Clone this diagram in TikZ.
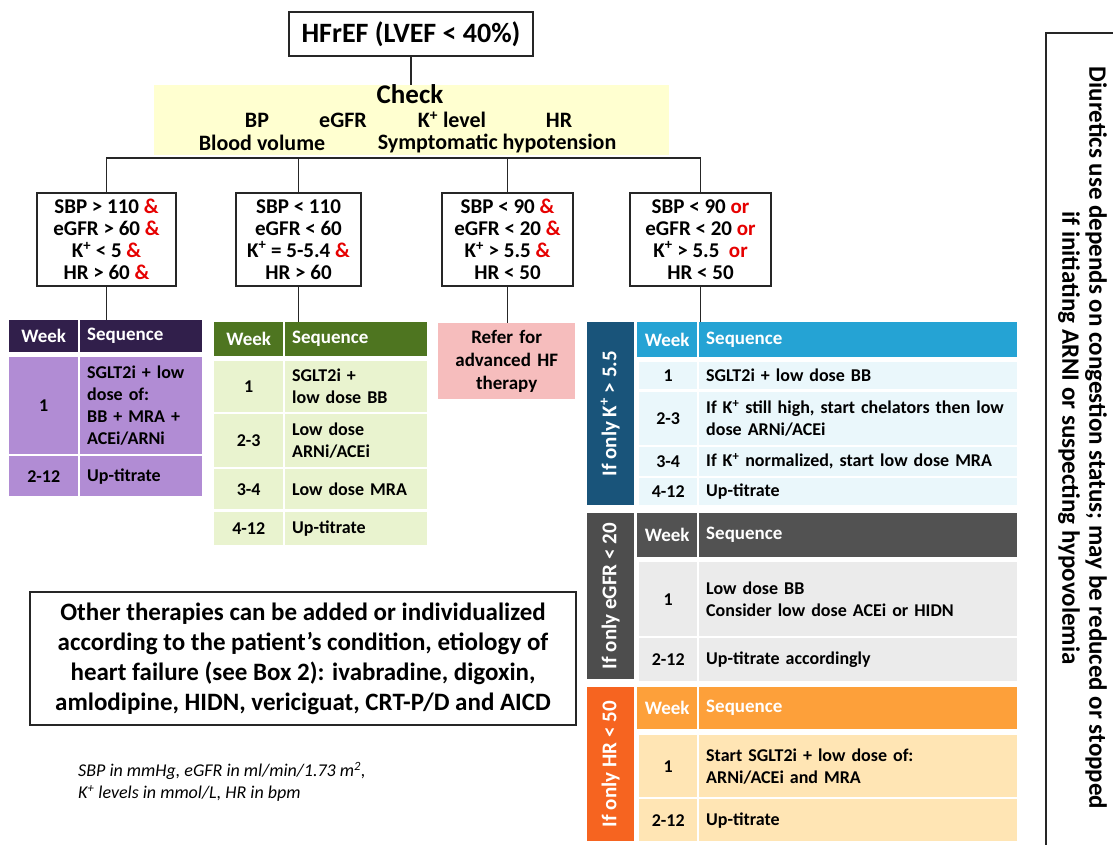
\documentclass[tikz,border=0pt]{standalone}
\usepackage{fontspec}
\setmainfont{Carlito}
\usetikzlibrary{positioning}

\definecolor{andred}{RGB}{230,0,0}
\definecolor{checkY}{RGB}{255,255,208}
\definecolor{purpleH}{RGB}{49,31,75}
\definecolor{purpleR}{RGB}{177,140,212}
\definecolor{greenH}{RGB}{78,117,32}
\definecolor{greenR}{RGB}{233,243,207}
\definecolor{pinkF}{RGB}{246,189,189}
\definecolor{blueS}{RGB}{25,84,122}
\definecolor{blueH}{RGB}{37,163,212}
\definecolor{blueR}{RGB}{234,247,251}
\definecolor{greyS}{RGB}{77,77,77}
\definecolor{greyH}{RGB}{82,82,82}
\definecolor{greyR}{RGB}{235,235,235}
\definecolor{orangeS}{RGB}{246,100,32}
\definecolor{orangeH}{RGB}{253,160,58}
\definecolor{orangeR}{RGB}{255,229,180}

\newcommand{\setfs}[2]{\fontsize{#1}{#2}\selectfont}
\newcommand{\redamp}{\textcolor{andred}{\&}}
\newcommand{\redor}{\textcolor{andred}{or}}
\newcommand{\Kp}{K\smash{\textsuperscript{+}}}

\tikzset{
  titlebox/.style = {draw=black!85, line width=1.8pt, fill=white, font=\setfs{28}{30}\bfseries},
  condbox/.style = {draw=black!85, line width=1.8pt, fill=white, align=center,
                    minimum height=93pt, inner sep=0pt, font=\setfs{21}{22}\bfseries},
  checktxt/.style = {font=\setfs{22}{24}\bfseries, inner sep=0pt},
  link/.style = {line width=1.8pt, draw=black!85},
  cell/.style = {anchor=north west, inner xsep=7pt, inner ysep=0pt, font=\setfs{18}{22}\bfseries},
  wk/.style = {cell, align=center},
  sq/.style = {cell, align=left},
  hd/.style = {text=white, font=\setfs{19}{22}\bfseries},
  sidetxt/.style = {rotate=90, text=white, font=\setfs{21}{22}\bfseries, inner sep=0pt},
}

% table cell from (x1,y1) to (x2,y2), y measured downward
\newcommand{\tcell}[7][]{%
  \pgfmathsetmacro{\cellw}{#5-#3}%
  \pgfmathsetmacro{\cellh}{#6-#4}%
  \pgfmathsetmacro{\cellt}{#5-#3-14}%
  \node[cell, minimum width=\cellw pt, minimum height=\cellh pt,
        text width=\cellt pt, #1] (#2) at (#3,#4) {#7};}

\begin{document}
\begin{tikzpicture}[x=1pt, y=-1pt]
\useasboundingbox (0,0) rectangle (1113,844);

% Top of the tree
\node[titlebox, minimum width=244pt, minimum height=44pt] (hfref) at (411,34) {HFrEF (LVEF < 40\%)};

\node[fill=checkY, minimum width=515pt, minimum height=70pt, inner sep=0pt] (check) at (411,120) {};
\node[font=\setfs{27}{29}\bfseries, inner sep=0pt] (chk) at (410,94) {Check};
\node[checktxt] (bp) at (257,120) {BP};
\node[checktxt] (egfr) at (343,120) {eGFR};
\node[checktxt] (klev) at (452,120) {\Kp{} level};
\node[checktxt] (hr) at (559,120) {HR};
\node[checktxt] (bvol) at (262,143) {Blood volume};
\node[checktxt] (hypo) at (497,143) {Symptomatic hypotension};

% Four branches
\node[condbox, minimum width=139pt] (c1) at (106.5,239.5)
  {SBP > 110 \redamp\\eGFR > 60 \redamp\\\Kp{} < 5 \redamp\\HR > 60 \redamp};
\node[condbox, minimum width=125pt] (c2) at (298.5,239.5)
  {SBP < 110\\eGFR < 60\\\Kp{} = 5-5.4 \redamp\\HR > 60};
\node[condbox, minimum width=131pt] (c3) at (507.5,239.5)
  {SBP < 90 \redamp\\eGFR < 20 \redamp\\\Kp{} > 5.5 \redamp\\HR < 50};
\node[condbox, minimum width=141pt] (c4) at (700.5,239.5)
  {SBP < 90 \redor\\eGFR < 20 \redor\\\Kp{} > 5.5~~\redor\\HR < 50};

% Purple table
\tcell[wk, fill=purpleH, hd]{p0w}{9}{320}{78}{352}{Week}
\tcell[sq, fill=purpleH, hd]{p0s}{80}{320}{202}{352}{Sequence}
\tcell[wk, fill=purpleR]{p1w}{9}{357}{78}{454}{1}
\tcell[sq, fill=purpleR]{p1s}{80}{357}{202}{454}{SGLT2i + low\\dose of:\\BB + MRA +\\ACEi/ARNi}
\tcell[wk, fill=purpleR]{p2w}{9}{456}{78}{496}{2-12}
\tcell[sq, fill=purpleR]{p2s}{80}{456}{202}{496}{Up-titrate}

% Green table
\tcell[wk, fill=greenH, hd]{g0w}{214}{322}{283}{356}{Week}
\tcell[sq, fill=greenH, hd]{g0s}{285}{322}{427}{356}{Sequence}
\tcell[wk, fill=greenR]{g1w}{214}{361}{283}{412}{1}
\tcell[sq, fill=greenR]{g1s}{285}{361}{427}{412}{SGLT2i +\\low dose BB}
\tcell[wk, fill=greenR]{g2w}{214}{414}{283}{467}{2-3}
\tcell[sq, fill=greenR]{g2s}{285}{414}{427}{467}{Low dose\\ARNi/ACEi}
\tcell[wk, fill=greenR]{g3w}{214}{469}{283}{509}{3-4}
\tcell[sq, fill=greenR]{g3s}{285}{469}{427}{509}{Low dose MRA}
\tcell[wk, fill=greenR]{g4w}{214}{512}{283}{545}{4-12}
\tcell[sq, fill=greenR]{g4s}{285}{512}{427}{545}{Up-titrate}

% Referral
\tcell[wk, fill=pinkF, font=\setfs{19}{23}\bfseries]{refer}{438}{323}{575}{399}{Refer for\\advanced HF\\therapy}

% Blue table: potassium
\tcell[fill=blueS]{bside}{587}{322}{634}{505}{}
\node[sidetxt] (btxt) at (bside.center) {If only \Kp{} > 5.5};
\tcell[wk, fill=blueH, hd]{b0w}{637}{322}{697}{357}{Week}
\tcell[sq, fill=blueH, hd]{b0s}{699}{322}{1017}{357}{Sequence}
\tcell[wk, fill=blueR]{b1w}{639}{362}{697}{389}{1}
\tcell[sq, fill=blueR]{b1s}{699}{362}{1017}{389}{SGLT2i + low dose BB}
\tcell[wk, fill=blueR]{b2w}{639}{392}{697}{445}{2-3}
\tcell[sq, fill=blueR]{b2s}{699}{392}{1017}{445}{If \Kp{} still high, start chelators then low\\dose ARNi/ACEi}
\tcell[wk, fill=blueR]{b3w}{639}{447}{697}{476}{3-4}
\tcell[sq, fill=blueR]{b3s}{699}{447}{1017}{476}{If \Kp{} normalized, start low dose MRA}
\tcell[wk, fill=blueR]{b4w}{639}{478}{697}{505}{4-12}
\tcell[sq, fill=blueR]{b4s}{699}{478}{1017}{505}{Up-titrate}

% Grey table: eGFR
\tcell[fill=greyS]{eside}{587}{513}{634}{679}{}
\node[sidetxt] (etxt) at (eside.center) {If only eGFR < 20};
\tcell[wk, fill=greyH, hd]{e0w}{637}{513}{697}{557}{Week}
\tcell[sq, fill=greyH, hd]{e0s}{699}{513}{1017}{557}{Sequence}
\tcell[wk, fill=greyR]{e1w}{639}{562}{697}{636}{1}
\tcell[sq, fill=greyR]{e1s}{699}{562}{1017}{636}{Low dose BB\\Consider low dose ACEi or HIDN}
\tcell[wk, fill=greyR]{e2w}{639}{638}{697}{681}{2-12}
\tcell[sq, fill=greyR]{e2s}{699}{638}{1017}{681}{Up-titrate accordingly}

% Orange table: heart rate
\tcell[fill=orangeS]{hside}{587}{687}{634}{841}{}
\node[sidetxt] (htxt) at (hside.center) {If only HR < 50};
\tcell[wk, fill=orangeH, hd]{h0w}{637}{687}{697}{729}{Week}
\tcell[sq, fill=orangeH, hd]{h0s}{699}{687}{1017}{729}{Sequence}
\tcell[wk, fill=orangeR]{h1w}{639}{735}{697}{797}{1}
\tcell[sq, fill=orangeR]{h1s}{699}{735}{1017}{797}{Start SGLT2i + low dose of:\\ARNi/ACEi and MRA}
\tcell[wk, fill=orangeR]{h2w}{639}{799}{697}{841}{2-12}
\tcell[sq, fill=orangeR]{h2s}{699}{799}{1017}{841}{Up-titrate}

% Connectors
\coordinate (bus) at (411,158);
\draw[link] (hfref.south) -- (hfref.south |- check.north);
\draw[link] (c1.north) |- (c4.north |- bus) -- (c4.north);
\draw[link] (c2.north) -- (c2.north |- bus);
\draw[link] (c3.north) -- (c3.north |- bus);
\draw[link] (c1.south) -- (c1.south |- p0s.north);
\draw[link] (c2.south) -- (c2.south |- g0s.north);
\draw[link] (c3.south) -- (c3.south |- refer.north);
\draw[link] (c4.south) -- (c4.south |- b0s.north);

% Other therapies and footnote
\node[draw=black!85, line width=1.8pt, minimum width=546pt, minimum height=133pt, align=center,
      font=\setfs{25}{30}\bfseries] (other) at (303,658.5)
  {Other therapies can be added or individualized\\according to the patient’s condition, etiology of\\heart failure (see Box 2): ivabradine, digoxin,\\amlodipine, HIDN, vericiguat, CRT-P/D and AICD};
\node[anchor=west, align=left, inner sep=0pt, font=\setfs{18}{22}\itshape] (note) at (78,782)
  {SBP in mmHg, eGFR in ml/min/1.73 m\textsuperscript{2},\\\Kp{} levels in mmol/L, HR in bpm};

% Diuretics note on the right
\draw[line width=1.8pt, draw=black!85] (1140,33) -- (1046,33) -- (1046,860);
\node[rotate=-90, align=center, font=\setfs{25}{27}\bfseries] (diur) at (1082.5,438)
  {Diuretics use depends on congestion status; may be reduced or stopped\\if initiating ARNI or suspecting hypovolemia};

\end{tikzpicture}
\end{document}
